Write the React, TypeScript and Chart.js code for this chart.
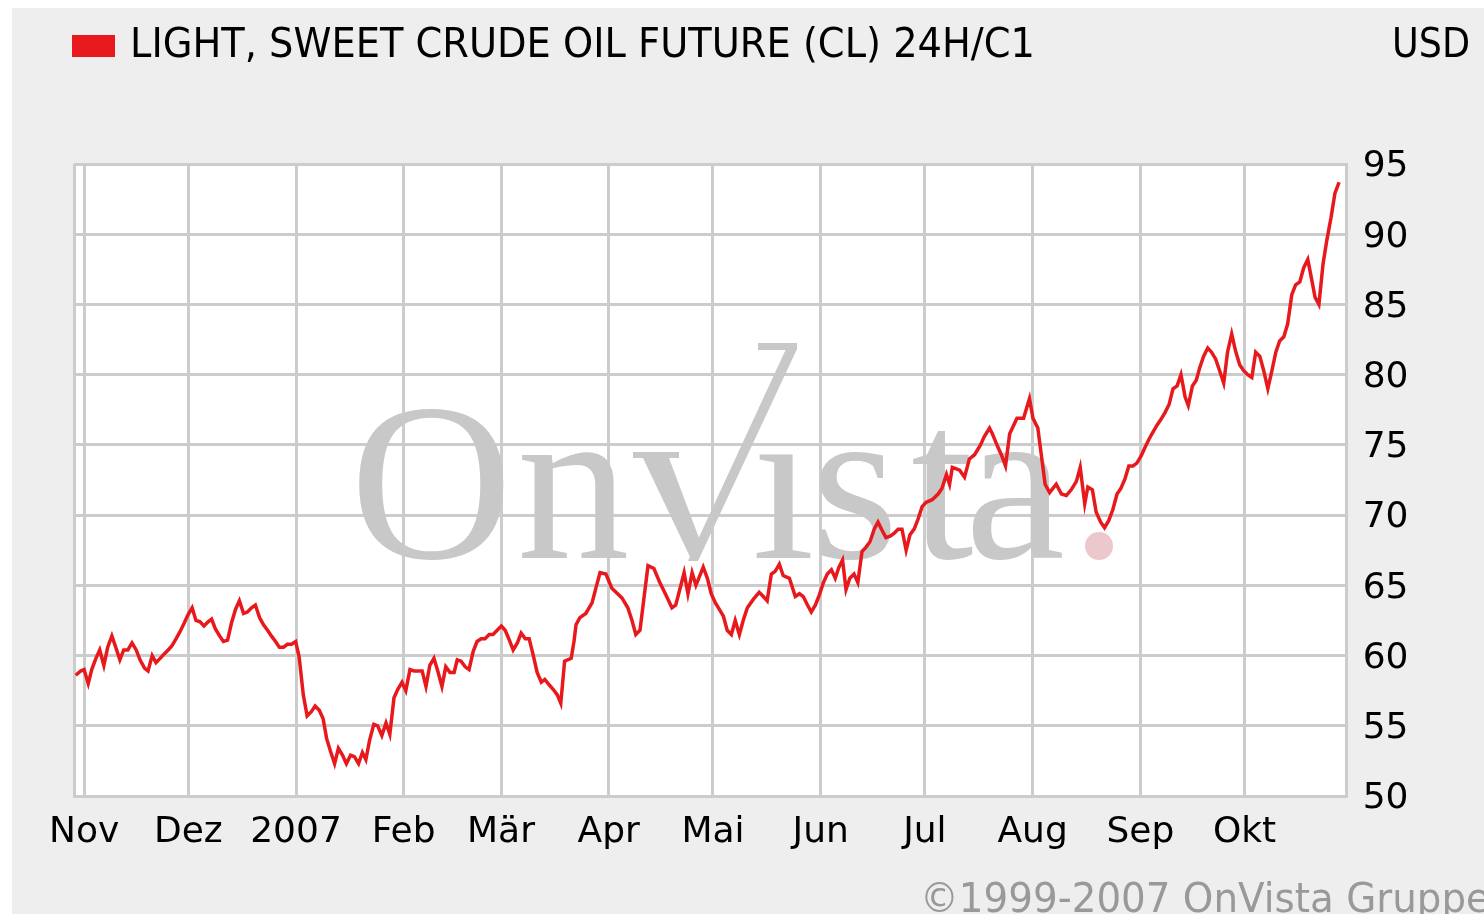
import React, { useEffect, useRef } from "react";
import { Chart, registerables } from "chart.js";

Chart.register(...registerables);

// Days since 2006-11-01 for each plotted point
const dayOffsets = [
  -2.4, -1.0, 0.0, 1.2, 2.2, 3.4, 4.5, 5.7, 6.8, 8.0, 9.1, 10.3, 11.4, 12.6, 13.8, 15.0, 16.1, 17.4, 18.4, 19.6,
  20.7, 21.9, 23.0, 24.2, 25.3, 26.5, 27.6, 28.8, 29.9, 31.1, 32.2, 33.4, 34.5, 35.7, 36.7, 37.8, 39.0, 40.1, 41.3, 42.4,
  43.6, 44.7, 45.9, 47.0, 48.2, 49.3, 50.5, 51.6, 52.8, 53.9, 55.1, 56.2, 57.4, 58.5, 59.7, 60.9, 61.9, 63.1, 64.2, 65.4,
  66.5, 67.7, 68.8, 69.8, 70.9, 72.1, 73.2, 74.4, 75.5, 76.7, 77.8, 79.0, 80.1, 81.1, 82.2, 83.4, 84.5, 85.7, 86.9, 88.0,
  89.2, 90.3, 91.5, 92.6, 93.8, 95.0, 96.1, 97.3, 98.4, 99.5, 100.7, 101.8, 103.0, 104.1, 105.3, 106.5, 107.4, 108.5, 109.7, 110.8,
  112.0, 113.1, 114.3, 115.4, 116.6, 117.7, 118.9, 120.1, 121.2, 122.4, 123.5, 124.7, 125.8, 127.0, 128.1, 129.3, 130.4, 131.6, 132.6, 133.9,
  135.0, 136.2, 137.2, 138.3, 140.2, 141.0, 141.6, 142.7, 144.4, 146.2, 147.3, 148.5, 150.2, 151.9, 153.1, 154.8, 156.5, 157.7, 158.8, 160.0,
  162.3, 164.0, 165.7, 167.5, 169.2, 170.3, 172.7, 173.8, 175.0, 176.1, 178.2, 179.4, 180.5, 181.7, 182.8, 184.0, 185.1, 186.3, 187.4, 188.6,
  189.7, 190.9, 192.6, 194.3, 195.5, 196.6, 197.8, 198.9, 200.1, 201.2, 203.0, 204.7, 205.9, 207.0, 208.2, 209.3, 210.5, 211.6, 212.8, 213.9,
  215.1, 216.2, 217.2, 218.3, 219.3, 220.4, 221.6, 222.7, 223.9, 225.0, 226.2, 227.4, 228.5, 229.7, 230.8, 232.0, 233.1, 234.3, 235.4, 236.6,
  237.7, 238.9, 240.0, 241.2, 242.3, 244.1, 245.8, 246.9, 248.2, 249.1, 249.9, 252.0, 253.4, 254.8, 256.3, 258.0, 259.1, 260.6, 261.4, 262.9,
  264.0, 265.2, 266.4, 268.5, 270.4, 272.1, 273.1, 274.5, 276.6, 277.9, 279.8, 281.3, 282.7, 284.1, 285.6, 286.7, 288.0, 288.9, 290.2, 291.3,
  292.6, 293.7, 294.9, 296.1, 297.3, 298.4, 299.6, 300.7, 301.9, 303.0, 304.2, 305.3, 306.5, 307.6, 308.8, 309.9, 311.1, 312.3, 313.4, 314.6,
  315.7, 316.9, 317.8, 319.0, 320.1, 321.1, 322.2, 323.4, 324.5, 325.7, 326.8, 328.0, 329.1, 330.3, 331.4, 332.6, 333.7, 334.9, 336.1, 337.2,
  338.4, 339.5, 340.7, 341.8, 343.0, 344.1, 345.3, 346.4, 347.6, 348.7, 349.9, 351.0, 352.2, 353.3, 354.3, 355.4, 356.6, 357.7, 358.9, 360.0,
  361.2,
];

// Price in USD for each point
const prices = [
  58.6, 58.9, 59.0, 58.0, 59.0, 59.8, 60.4, 59.3, 60.6, 61.4, 60.6, 59.7, 60.4, 60.4, 60.9, 60.4, 59.7, 59.1, 58.9, 60.0,
  59.5, 59.8, 60.1, 60.4, 60.7, 61.2, 61.7, 62.3, 62.9, 63.4, 62.5, 62.4, 62.1, 62.4, 62.6, 61.9, 61.4, 61.0, 61.1, 62.3,
  63.3, 63.9, 63.0, 63.1, 63.4, 63.6, 62.7, 62.2, 61.8, 61.4, 61.0, 60.6, 60.6, 60.8, 60.8, 61.0, 59.9, 57.2, 55.7, 56.0,
  56.4, 56.1, 55.5, 54.1, 53.2, 52.3, 53.4, 52.9, 52.3, 52.9, 52.8, 52.3, 53.1, 52.6, 54.0, 55.1, 55.0, 54.3, 55.2, 54.4,
  57.0, 57.6, 58.1, 57.5, 59.0, 58.9, 58.9, 58.9, 57.8, 59.3, 59.8, 58.9, 57.8, 59.2, 58.8, 58.8, 59.7, 59.6, 59.2, 59.0,
  60.3, 61.0, 61.2, 61.2, 61.5, 61.5, 61.8, 62.1, 61.8, 61.1, 60.4, 60.9, 61.6, 61.2, 61.2, 60.0, 58.8, 58.1, 58.3, 57.9,
  57.6, 57.2, 56.6, 59.6, 59.8, 61.0, 62.2, 62.7, 63.0, 63.75, 64.8, 65.9, 65.8, 64.8, 64.5, 64.1, 63.4, 62.5, 61.5, 61.8,
  66.4, 66.2, 65.2, 64.3, 63.4, 63.6, 65.9, 64.4, 65.9, 65.0, 66.3, 65.5, 64.4, 63.75, 63.3, 62.8, 61.8, 61.5, 62.5, 61.5,
  62.5, 63.4, 64.0, 64.5, 64.2, 63.9, 65.8, 66.0, 66.5, 65.7, 65.5, 64.2, 64.4, 64.2, 63.6, 63.1, 63.6, 64.3, 65.2, 65.8,
  66.1, 65.5, 66.25, 66.8, 64.7, 65.5, 65.8, 65.2, 67.4, 67.7, 68.1, 69.0, 69.5, 68.9, 68.4, 68.5, 68.7, 69.0, 69.0, 67.5,
  68.6, 69.0, 69.7, 70.6, 70.9, 71.1, 71.5, 71.9, 72.9, 72.2, 73.4, 73.2, 72.7, 74.0, 74.3, 75.0, 75.6, 76.2, 75.8, 74.9,
  74.3, 73.5, 75.8, 76.9, 76.9, 78.3, 76.9, 76.2, 72.2, 71.6, 72.2, 71.5, 71.4, 71.8, 72.4, 73.4, 70.8, 72.0, 71.8, 70.2,
  69.5, 69.1, 69.6, 70.4, 71.5, 71.9, 72.6, 73.5, 73.5, 73.7, 74.2, 74.8, 75.4, 75.9, 76.4, 76.8, 77.3, 77.9, 79.0, 79.2,
  80.0, 78.4, 77.8, 79.2, 79.6, 80.5, 81.3, 81.9, 81.6, 81.1, 80.3, 79.4, 81.6, 82.9, 81.7, 80.7, 80.3, 80.0, 79.8, 81.6,
  81.3, 80.3, 79.0, 80.2, 81.6, 82.4, 82.7, 83.6, 85.7, 86.4, 86.6, 87.6, 88.2, 86.8, 85.5, 85.0, 87.9, 89.6, 91.2, 92.9,
  93.7,
];

// Month boundaries (days since 2006-11-01) and their labels
const monthDays = [0, 30, 61, 92, 120, 151, 181, 212, 242, 273, 304, 334];
const monthLabels = ["Nov", "Dez", "2007", "Feb", "Mär", "Apr", "Mai", "Jun", "Jul", "Aug", "Sep", "Okt"];

const yTicks = [50, 55, 60, 65, 70, 75, 80, 85, 90, 95];

const seriesLabel = "LIGHT, SWEET CRUDE OIL FUTURE (CL) 24H/C1";
const unitLabel = "USD";
const copyright = "©1999-2007 OnVista Gruppe";

const RED = "#e8191c";
const GRID = "#cccccc";
const W = 1472;
const H = 906;

function drawFitted(ctx, text, x, y, width, font, color) {
  ctx.save();
  ctx.font = font;
  ctx.fillStyle = color;
  ctx.textAlign = "left";
  ctx.textBaseline = "alphabetic";
  const w = ctx.measureText(text).width;
  ctx.translate(x, y);
  ctx.scale(width / w, 1);
  ctx.fillText(text, 0, 0);
  ctx.restore();
}

const decorPlugin = {
  id: "decor",
  beforeDraw(chart) {
    const { ctx, chartArea } = chart;
    ctx.save();
    ctx.fillStyle = "#eeeeee";
    ctx.fillRect(0, 0, chart.width, chart.height);
    ctx.fillStyle = "#ffffff";
    ctx.fillRect(chartArea.left, chartArea.top, chartArea.right - chartArea.left, chartArea.bottom - chartArea.top);
    ctx.restore();
  },
  beforeDatasetsDraw(chart) {
    const { ctx } = chart;
    ctx.save();
    const wm = "#c8c8c8";
    ctx.fillStyle = wm;
    ctx.font = '225px "Liberation Serif"';
    ctx.textBaseline = "alphabetic";
    ctx.textAlign = "left";
    const base = 550;
    ctx.fillText("O", 338, base);
    ctx.fillText("n", 505, base);
    ctx.fillText("ı", 740, base);
    ctx.fillText("s", 799, base);
    ctx.fillText("t", 899, base);
    ctx.fillText("a", 953, base);
    // stylised V
    ctx.fillRect(621, 444, 46, 6);
    ctx.beginPath();
    ctx.moveTo(631, 450);
    ctx.lineTo(657, 450);
    ctx.lineTo(690, 538);
    ctx.lineTo(680, 553);
    ctx.closePath();
    ctx.fill();
    ctx.beginPath();
    ctx.moveTo(676, 553);
    ctx.lineTo(686, 553);
    ctx.lineTo(785, 341);
    ctx.lineTo(774, 341);
    ctx.closePath();
    ctx.fill();
    ctx.fillRect(746, 335, 39, 7);
    // pink dot
    ctx.fillStyle = "#ecc8cd";
    ctx.beginPath();
    ctx.arc(1087, 538, 14, 0, Math.PI * 2);
    ctx.fill();
    ctx.restore();
  },
  afterDraw(chart) {
    const { ctx } = chart;
    ctx.save();
    ctx.fillStyle = RED;
    ctx.fillRect(60, 27, 43, 22);
    ctx.restore();
    drawFitted(ctx, seriesLabel, 118, 49, 905, '41px "DejaVu Sans"', "#000000");
    drawFitted(ctx, unitLabel, 1380, 49, 78, '41px "DejaVu Sans"', "#000000");
    drawFitted(ctx, copyright, 908, 904, 570, '40px "DejaVu Sans"', "#999999");
  },
};

export default function App() {
  const ref = useRef(null);
  useEffect(() => {
    const canvas = ref.current;
    const points = dayOffsets.map((d, i) => ({ x: d, y: prices[i] }));
    const chart = new Chart(canvas, {
      type: "line",
      data: {
        datasets: [
          {
            label: seriesLabel,
            data: points,
            borderColor: RED,
            borderWidth: 3.5,
            pointRadius: 0,
            tension: 0,
            fill: false,
          },
        ],
      },
      options: {
        animation: false,
        responsive: false,
        maintainAspectRatio: false,
        layout: { padding: { left: 62, top: 156, right: 0, bottom: 0 } },
        plugins: { legend: { display: false }, tooltip: { enabled: false }, title: { display: false } },
        scales: {
          x: {
            type: "linear",
            min: -2.9,
            max: 363.4,
            afterBuildTicks: (s) => {
              s.ticks = [{ value: s.min }, ...monthDays.map((v) => ({ value: v })), { value: s.max }];
            },
            afterFit: (s) => {
              s.height = 118;
            },
            ticks: {
              autoSkip: false,
              maxRotation: 0,
              minRotation: 0,
              padding: 15,
              color: "#000000",
              font: { family: '"DejaVu Sans"', size: 36 },
              callback: (value) => {
                const idx = monthDays.indexOf(value);
                return idx >= 0 ? monthLabels[idx] : "";
              },
            },
            grid: { color: GRID, lineWidth: 3, drawTicks: false },
            border: { display: true, color: GRID, width: 3 },
          },
          y: {
            type: "linear",
            position: "right",
            min: 50,
            max: 95,
            afterBuildTicks: (s) => {
              s.ticks = yTicks.map((v) => ({ value: v }));
            },
            afterFit: (s) => {
              s.width = W - 62 - 1272.7;
            },
            ticks: {
              padding: 16,
              labelOffset: 3,
              color: "#000000",
              font: { family: '"DejaVu Sans"', size: 36 },
            },
            grid: { color: GRID, lineWidth: 3, drawTicks: false },
            border: { display: true, color: GRID, width: 3 },
          },
        },
      },
      plugins: [decorPlugin],
    });
    return () => chart.destroy();
  }, []);

  return (
    <div style={{ position: "fixed", left: 12, top: 8, width: W, height: H, background: "#eeeeee" }}>
      <canvas ref={ref} width={W} height={H} style={{ display: "block" }} />
    </div>
  );
}
